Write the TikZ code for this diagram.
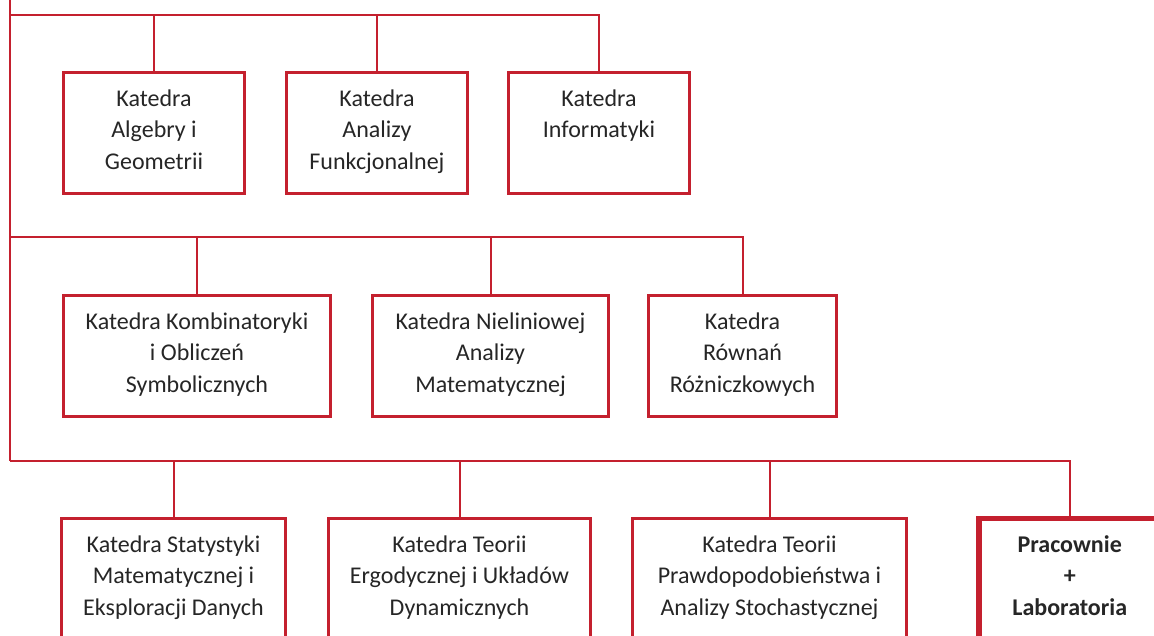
\documentclass[tikz,border=0pt]{standalone}
\usepackage{fontspec}
\setmainfont{Carlito}
\usepackage{tikz}
\usetikzlibrary{positioning}
\definecolor{deptred}{RGB}{196,32,46}
\definecolor{textgray}{RGB}{38,38,38}
\newcommand{\deptbox}[2]{\parbox[t][121pt][t]{#1pt}{\centering\rule{0pt}{33.5pt}#2}}
\tikzset{dept style/.style={
		draw=deptred,
		line width=3pt,
		fill=white,
		text=textgray,
		rectangle,
		inner sep=0pt,
		font=\fontsize{24}{31.5}\selectfont,
	},
	lab style/.style={
		dept style,
		line width=5.5pt,
		font=\fontsize{24}{31.5}\selectfont\bfseries,
	},
	link style/.style={
		draw=deptred,
		line width=2pt,
	}
}

\begin{document}
\begin{tikzpicture}[x=1pt,y=-1pt]
	\useasboundingbox (0,0) rectangle (1154,635);
	\clip (0,0) rectangle (1154,635);
	
	\node[dept style, anchor=north west] (Algebra) at (62,71) {\deptbox{181}{Katedra\\Algebry i\\Geometrii}};
	
	\node[dept style, right=39pt of Algebra] (AnalizaF) {\deptbox{181}{Katedra\\Analizy\\Funkcjonalnej}};
	
	\node[dept style, right=38pt of AnalizaF] (Informatyka) {\deptbox{181}{Katedra\\Informatyki}};
	
	\node[dept style, below=99pt of Algebra.south west, anchor=north west] (Kombinatoryka) {\deptbox{267}{Katedra Kombinatoryki\\i Obliczeń\\Symbolicznych}};
	
	\node[dept style, right=39pt of Kombinatoryka] (Nieliniowa) {\deptbox{236}{Katedra Nieliniowej\\Analizy\\Matematycznej}};
	
	\node[dept style, right=37pt of Nieliniowa] (Rownania) {\deptbox{188}{Katedra\\Równań\\Różniczkowych}};
	
	\node[dept style, below=99pt of Kombinatoryka.south west, anchor=north west, xshift=-2pt] (Statystyka) {\deptbox{224}{Katedra Statystyki\\Matematycznej i\\Eksploracji Danych}};
	
	\node[dept style, right=40pt of Statystyka] (Ergodyka) {\deptbox{262}{Katedra Teorii\\Ergodycznej i Układów\\Dynamicznych}};
	
	\node[dept style, right=39pt of Ergodyka] (Prawdopodobienstwo) {\deptbox{274}{Katedra Teorii\\Prawdopodobieństwa i\\Analizy Stochastycznej}};
	
	\node[lab style, right=68pt of Prawdopodobienstwo] (Pracownie) {\deptbox{182}{Pracownie\\+\\Laboratoria}};
	
	\coordinate (Top) at (10,0);
	\coordinate (Bus1) at (10,14.7);
	\coordinate (Bus2) at (10,237.3);
	\coordinate (Bus3) at (10,460.7);
	
	\draw[link style] (Top) -- (Bus3);
	\draw[link style] (Bus1) -| (Informatyka.north);
	\draw[link style] (Algebra.north) -- (Algebra.north |- Bus1);
	\draw[link style] (AnalizaF.north) -- (AnalizaF.north |- Bus1);
	
	\draw[link style] (Bus2) -| (Rownania.north);
	\draw[link style] (Kombinatoryka.north) -- (Kombinatoryka.north |- Bus2);
	\draw[link style] (Nieliniowa.north) -- (Nieliniowa.north |- Bus2);
	
	\draw[link style] (Bus3) -| (Pracownie.north);
	\draw[link style] (Statystyka.north) -- (Statystyka.north |- Bus3);
	\draw[link style] (Ergodyka.north) -- (Ergodyka.north |- Bus3);
	\draw[link style] (Prawdopodobienstwo.north) -- (Prawdopodobienstwo.north |- Bus3);
\end{tikzpicture}
\end{document}
